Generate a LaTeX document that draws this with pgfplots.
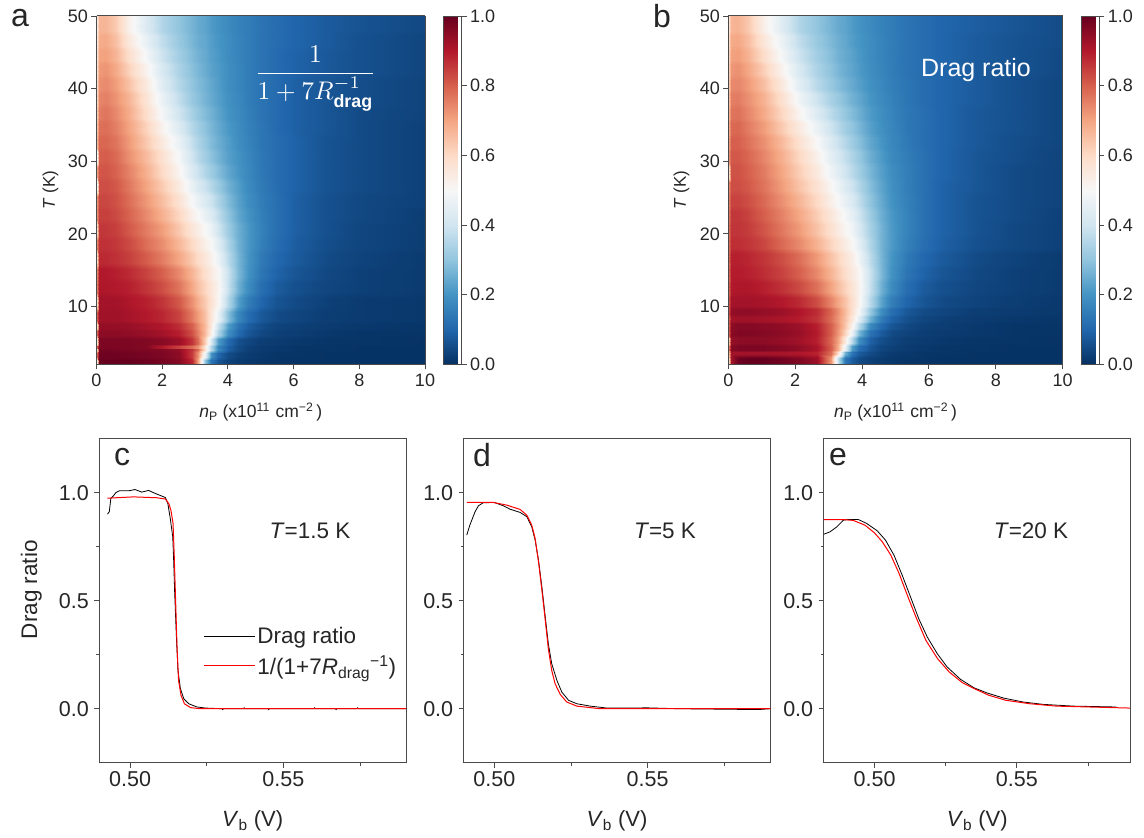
\documentclass[border=0pt]{standalone}
\usepackage{amsmath}
\usepackage{graphicx}
\usepackage{fontspec}
\setmainfont{Liberation Sans}
\usepackage{pgfplots}
\pgfplotsset{compat=1.18}
\definecolor{txt}{HTML}{262626}
\definecolor{frm}{HTML}{4A4A4A}
\newcount\hmrows
\makeatletter
\def\hm@emit#1#2{\def\hm@T{#1}\expandafter\hm@step\hmcolumns,\@nil#2,\@nil}
\def\hm@step#1,#2\@nil#3,#4\@nil{%
  \xdef\hmlist{\hmlist(#1,\hm@T,#3)}%
  \ifx\relax#2\relax\else\hm@step#2\@nil#4\@nil\fi}
% each band is flat over its lower part, then blends into the next band
\newcommand\hmrow[3]{%
  \ifdim#2pt<50pt\pgfmathsetmacro\hm@hi{#2-0.4*(#2-#1)}\else\def\hm@hi{#2}\fi
  \hm@emit{#1}{#3}\hm@emit{\hm@hi}{#3}\global\advance\hmrows by 2\relax}
\newcommand\hmstart[1]{\gdef\hmlist{}\global\hmrows=0\relax\def\hmcolumns{#1}}
\makeatother

% ---------- panel a: value per band of T (lo, hi) along n_P
\hmstart{0,0.08,0.3,0.6,1,1.5,2,2.5,2.9,3.1,3.3,3.5,3.7,4,4.3,4.6,5,5.5,6,7,8,10}
\hmrow{2}{3}{.55,1,1,1,1,.99,.98,.96,.88,.70,.30,.13,.07,.035,.02,.015,.01,.01,.005,.005,.005,.005}
\hmrow{3}{4}{.80,.99,.99,.99,.985,.98,.97,.95,.85,.72,.46,.20,.10,.05,.03,.02,.015,.01,.01,.005,.005,.005}
\hmrow{4}{4.3}{.60,.98,.98,.98,.975,.97,.965,.94,.86,.78,.58,.36,.18,.09,.05,.03,.02,.015,.01,.01,.005,.005}
\hmrow{4.3}{4.8}{.80,.97,.97,.97,.97,.965,.90,.84,.78,.72,.56,.35,.17,.09,.05,.03,.02,.015,.01,.01,.005,.005}
\hmrow{4.8}{6}{.55,.97,.97,.97,.97,.965,.955,.93,.86,.78,.62,.42,.22,.11,.06,.04,.025,.02,.015,.01,.01,.005}
\hmrow{6}{7}{.80,.95,.95,.95,.945,.935,.92,.89,.82,.75,.66,.53,.35,.19,.11,.07,.045,.03,.025,.015,.01,.01}
\hmrow{7}{8}{.60,.94,.94,.94,.935,.92,.905,.87,.80,.735,.66,.55,.39,.22,.13,.085,.055,.035,.03,.02,.015,.01}
\hmrow{8}{10}{.80,.925,.925,.925,.915,.90,.88,.84,.76,.71,.65,.565,.465,.29,.175,.115,.075,.05,.04,.025,.02,.015}
\hmrow{10}{12}{.60,.92,.92,.92,.905,.89,.86,.81,.73,.68,.63,.575,.51,.355,.225,.15,.10,.065,.05,.03,.02,.015}
\hmrow{12}{14}{.76,.905,.905,.90,.89,.86,.825,.77,.695,.65,.61,.565,.52,.385,.26,.185,.12,.08,.06,.04,.03,.02}
\hmrow{14}{16}{.75,.90,.90,.89,.875,.84,.80,.74,.67,.63,.585,.545,.505,.39,.275,.20,.135,.095,.07,.045,.03,.02}
\hmrow{16}{18}{.60,.875,.875,.865,.845,.805,.76,.695,.63,.595,.56,.525,.47,.365,.27,.205,.145,.105,.08,.05,.035,.02}
\hmrow{18}{20}{.75,.865,.865,.855,.83,.78,.735,.665,.60,.565,.53,.50,.44,.345,.26,.21,.155,.115,.085,.055,.04,.025}
\hmrow{20}{22}{.60,.855,.855,.845,.81,.76,.71,.635,.565,.535,.50,.47,.405,.32,.255,.21,.16,.12,.09,.06,.04,.025}
\hmrow{22}{24}{.735,.845,.845,.83,.795,.74,.68,.605,.53,.50,.46,.43,.375,.30,.24,.20,.155,.12,.09,.06,.045,.025}
\hmrow{24}{26}{.725,.835,.835,.82,.78,.72,.655,.575,.495,.46,.425,.395,.345,.28,.23,.19,.15,.12,.09,.06,.045,.03}
\hmrow{26}{28}{.50,.825,.825,.81,.765,.70,.63,.545,.46,.42,.39,.355,.315,.26,.22,.18,.145,.115,.095,.065,.05,.03}
\hmrow{28}{30}{.705,.815,.815,.795,.75,.68,.60,.515,.425,.39,.35,.32,.285,.24,.205,.175,.14,.115,.095,.065,.05,.03}
\hmrow{30}{32}{.50,.80,.805,.785,.73,.66,.58,.49,.40,.36,.325,.295,.265,.225,.20,.17,.14,.115,.095,.065,.05,.03}
\hmrow{32}{34}{.67,.79,.79,.77,.715,.635,.55,.465,.38,.345,.31,.28,.255,.22,.19,.165,.135,.115,.095,.065,.05,.03}
\hmrow{34}{36}{.65,.775,.78,.755,.70,.615,.52,.43,.355,.325,.295,.27,.245,.21,.185,.16,.135,.11,.09,.07,.05,.03}
\hmrow{36}{38}{.63,.76,.77,.74,.685,.59,.49,.40,.335,.305,.28,.26,.235,.20,.18,.155,.13,.11,.09,.07,.05,.035}
\hmrow{38}{40}{.61,.745,.755,.725,.67,.57,.465,.375,.31,.29,.265,.245,.225,.195,.175,.15,.13,.11,.09,.07,.055,.035}
\hmrow{40}{42}{.595,.73,.74,.71,.645,.55,.44,.355,.30,.28,.26,.24,.22,.19,.17,.15,.13,.11,.09,.07,.055,.035}
\hmrow{42}{44}{.585,.715,.725,.69,.615,.52,.42,.34,.29,.27,.25,.23,.215,.19,.17,.15,.13,.11,.095,.075,.06,.04}
\hmrow{44}{46}{.575,.70,.705,.67,.585,.49,.395,.325,.28,.26,.245,.225,.21,.185,.165,.15,.13,.11,.095,.075,.06,.04}
\hmrow{46}{48}{.565,.685,.69,.65,.555,.46,.375,.31,.27,.25,.24,.22,.205,.185,.165,.15,.13,.115,.10,.08,.06,.04}
\hmrow{48}{50}{.55,.67,.67,.63,.525,.43,.35,.30,.265,.245,.235,.215,.20,.18,.16,.15,.13,.115,.10,.08,.065,.045}
\global\let\hmlistA\hmlist
\edef\hmrowsA{\the\hmrows}

% ---------- panel b
\hmstart{0,0.08,0.3,0.6,1.06,1.6,2.12,2.65,3.07,3.29,3.5,3.71,3.92,4.24,4.56,4.88,5.3,5.83,6.36,7.42,8.48,10}
\hmrow{2}{3.4}{.50,.92,.99,1,1,.985,.965,.93,.72,.38,.14,.08,.05,.03,.02,.015,.01,.01,.005,.005,.005,.005}
\hmrow{3.4}{4}{.60,.92,.92,.92,.92,.915,.905,.885,.78,.58,.26,.13,.08,.05,.03,.02,.015,.01,.01,.005,.005,.005}
\hmrow{4}{5}{.70,.96,.97,.97,.97,.96,.945,.91,.80,.68,.46,.22,.12,.07,.04,.03,.02,.015,.01,.01,.005,.005}
\hmrow{5}{6}{.50,.94,.95,.95,.95,.94,.925,.89,.79,.70,.55,.36,.19,.09,.055,.04,.025,.02,.015,.01,.01,.005}
\hmrow{6}{7}{.75,.955,.965,.965,.96,.95,.935,.895,.80,.72,.61,.46,.27,.13,.08,.05,.035,.025,.02,.015,.01,.01}
\hmrow{7}{8}{.75,.95,.96,.96,.955,.945,.93,.89,.80,.73,.64,.52,.36,.18,.11,.07,.045,.03,.025,.015,.01,.01}
\hmrow{8}{9}{.75,.92,.925,.925,.92,.91,.895,.86,.78,.72,.65,.56,.44,.26,.15,.095,.06,.04,.03,.02,.015,.01}
\hmrow{9}{10}{.78,.94,.945,.945,.94,.93,.905,.87,.79,.73,.66,.58,.49,.31,.19,.12,.075,.05,.04,.025,.02,.015}
\hmrow{10}{12}{.78,.92,.92,.92,.915,.90,.875,.825,.745,.695,.645,.585,.515,.36,.235,.155,.10,.07,.05,.035,.025,.015}
\hmrow{12}{14}{.76,.90,.905,.905,.89,.865,.83,.775,.70,.655,.615,.57,.52,.385,.26,.185,.12,.08,.06,.04,.03,.02}
\hmrow{14}{16}{.75,.895,.895,.89,.87,.84,.80,.74,.67,.63,.59,.55,.51,.39,.275,.20,.135,.095,.07,.045,.03,.02}
\hmrow{16}{18}{.75,.89,.89,.88,.86,.825,.78,.715,.645,.61,.57,.535,.48,.37,.27,.205,.145,.105,.08,.05,.035,.02}
\hmrow{18}{20}{.75,.87,.87,.86,.835,.785,.74,.675,.61,.575,.54,.505,.45,.35,.265,.215,.16,.12,.09,.06,.045,.03}
\hmrow{20}{22}{.75,.86,.86,.85,.815,.765,.715,.645,.58,.545,.51,.48,.42,.335,.265,.215,.165,.125,.095,.065,.045,.03}
\hmrow{22}{24}{.74,.855,.855,.84,.80,.75,.695,.625,.56,.525,.49,.455,.40,.32,.255,.21,.165,.125,.095,.065,.05,.03}
\hmrow{24}{26}{.73,.84,.84,.825,.785,.73,.67,.60,.53,.495,.46,.425,.375,.30,.245,.20,.16,.125,.095,.065,.05,.035}
\hmrow{26}{28}{.72,.825,.825,.81,.77,.71,.645,.575,.505,.47,.43,.395,.35,.285,.235,.195,.155,.125,.095,.07,.05,.035}
\hmrow{28}{30}{.50,.82,.82,.80,.76,.695,.625,.55,.475,.44,.40,.365,.325,.27,.225,.19,.155,.125,.10,.07,.05,.035}
\hmrow{30}{32}{.70,.81,.81,.79,.745,.68,.605,.525,.45,.415,.38,.345,.31,.255,.215,.18,.15,.125,.10,.07,.055,.035}
\hmrow{32}{34}{.68,.80,.80,.775,.73,.66,.58,.50,.425,.39,.355,.32,.29,.24,.205,.175,.145,.12,.10,.075,.055,.04}
\hmrow{34}{36}{.66,.785,.79,.76,.71,.63,.55,.465,.395,.36,.325,.30,.27,.225,.195,.17,.14,.12,.10,.075,.06,.04}
\hmrow{36}{38}{.64,.77,.775,.745,.69,.605,.515,.43,.365,.335,.305,.28,.255,.215,.19,.165,.14,.12,.10,.075,.06,.04}
\hmrow{38}{40}{.62,.755,.76,.73,.675,.58,.48,.395,.335,.31,.285,.26,.24,.205,.18,.16,.135,.115,.10,.08,.06,.04}
\hmrow{40}{42}{.60,.74,.745,.715,.65,.55,.445,.36,.31,.285,.265,.245,.225,.195,.175,.155,.135,.115,.10,.08,.06,.04}
\hmrow{42}{44}{.59,.72,.73,.695,.62,.52,.42,.34,.295,.27,.25,.235,.215,.19,.17,.15,.13,.115,.10,.08,.065,.045}
\hmrow{44}{46}{.58,.705,.71,.675,.59,.49,.395,.325,.285,.26,.245,.23,.21,.185,.165,.15,.13,.115,.10,.08,.065,.045}
\hmrow{46}{48}{.57,.69,.695,.655,.56,.465,.375,.31,.275,.255,.24,.22,.205,.185,.165,.15,.13,.115,.10,.08,.065,.05}
\hmrow{48}{50}{.55,.67,.675,.635,.53,.435,.35,.30,.265,.245,.235,.215,.20,.18,.16,.15,.13,.115,.10,.085,.07,.05}
\global\let\hmlistB\hmlist
\edef\hmrowsB{\the\hmrows}

\pgfplotsset{
  colormap={rdbu}{rgb255=(5,48,97) rgb255=(33,102,172) rgb255=(67,147,195) rgb255=(146,197,222) rgb255=(209,229,240) rgb255=(247,247,247) rgb255=(253,219,199) rgb255=(244,165,130) rgb255=(214,96,77) rgb255=(178,24,43) rgb255=(103,0,31)},
  hm/.style={surf,shader=interp,mesh/ordering=x varies,mesh/cols=22},
  common/.style={
    scale only axis,
    axis line style={frm,line width=1pt},
    tick style={frm,line width=0.9pt},
    tick align=outside,
    major tick length=5pt,
    minor tick length=3pt,
    scaled ticks=false,
    every tick label/.append style={text=txt},
    label style={text=txt},
  },
  map/.style={
    common,
    width=#1,height=348.5pt,
    xmin=0,xmax=10,ymin=2,ymax=50,
    xtick={0,2,4,6,8,10},ytick={10,20,30,40,50},
    tick pos=left,
    view={0}{90},
    axis on top,
    colormap name=rdbu,
    point meta min=0,point meta max=1,
    tick label style={font=\fontsize{18}{20}\selectfont},
    xticklabel style={/pgf/number format/assume math mode=true,yshift=-1pt},
    yticklabel style={/pgf/number format/assume math mode=true},
    xlabel={\textit{n}\textsubscript{P} (x10\textsuperscript{11}\,\,cm\textsuperscript{−2}\,)},
    ylabel={\textit{T} (K)},
    xlabel style={font=\fontsize{17.5}{19}\selectfont,at={(axis description cs:0.5,-0.136)},anchor=center},
    ylabel style={font=\fontsize{17}{19}\selectfont,at={(axis description cs:-0.14,0.5)},anchor=center},
    colorbar,
    colorbar style={
      at={(parent axis.north east)},anchor=north west,
      xshift=10pt,width=18pt,
      ytick={0,0.2,0.4,0.6,0.8,1},
      tick pos=right,
      yticklabel pos=right,
      major tick length=5pt,
      tick align=outside,
      axis line style={frm,line width=0.6pt},
      tick style={frm,line width=0.9pt},
      yticklabel style={font=\fontsize{18}{20}\selectfont,text=txt,
        /pgf/number format/.cd,fixed,fixed zerofill,precision=1,assume math mode=true},
    },
  },
  curve/.style n args={2}{
    common,
    width=#1,height=323.9pt,
    ymin=-0.25,ymax=1.25,
    xmax=0.59,xmin=#2,
    xtick={0.5,0.55},ytick={0,0.5,1},
    minor xtick={0.525,0.575},minor ytick={0.25,0.75},
    tick pos=left,
    clip=true,
    tick label style={font=\fontsize{21.5}{23}\selectfont},
    xticklabel style={/pgf/number format/.cd,fixed,fixed zerofill,precision=2,assume math mode=true},
    yticklabel style={xshift=-2pt,/pgf/number format/.cd,fixed,fixed zerofill,precision=1,assume math mode=true},
    xlabel={\textit{V}\textsubscript{b} (V)},
    xlabel style={font=\fontsize{22}{24}\selectfont,at={(axis description cs:0.5,-0.18)},anchor=center},
  },
}

\begin{document}
\begin{tikzpicture}
\path[use as bounding box] (0pt,0pt) rectangle (1144pt,838pt);

% ---- a
\begin{axis}[map=328.5pt,at={(96.5pt,473.5pt)},anchor=south west]
\edef\doplot{\noexpand\addplot3[hm,mesh/rows=\hmrowsA] coordinates {\hmlistA};}\doplot
\end{axis}

% ---- b
\begin{axis}[map=334.4pt,at={(728.3pt,473.5pt)},anchor=south west]
\edef\doplot{\noexpand\addplot3[hm,mesh/rows=\hmrowsB] coordinates {\hmlistB};}\doplot
\end{axis}

% ---- c
\begin{axis}[curve={306.7pt}{0.48994},at={(99.3pt,75.3pt)},anchor=south west,
  ylabel={Drag ratio},
  ylabel style={font=\fontsize{22.5}{24}\selectfont,at={(axis description cs:-0.222,0.534)},anchor=center},
  legend style={at={(axis description cs:0.339,0.425)},anchor=north west,draw=none,fill=none,
    font=\fontsize{22.5}{24}\selectfont,text=txt,row sep=7pt,inner sep=0pt,
    /tikz/every even column/.style={column sep=6pt}},
  legend cell align=left,
  legend image code/.code={\draw[#1] (0pt,0pt) -- (51pt,0pt);},
]
\addplot[black,line width=0.8pt] coordinates {(0.4926,0.901)(0.4932,0.912)(0.4937,0.974)(0.4945,0.985)(0.4954,1.0015)(0.4965,1.009)(0.4995,1.009)(0.5016,1.015)(0.5038,1.003)(0.506,1.011)(0.5082,0.997)(0.5115,0.978)(0.5123,0.95)(0.5131,0.881)(0.5139,0.796)(0.5142,0.688)(0.5145,0.549)(0.5151,0.332)(0.5156,0.178)(0.5164,0.093)(0.5175,0.046)(0.5191,0.023)(0.5218,0.008)(0.5246,0.003)(0.53,0)(0.5302,-0.004)(0.5304,0)(0.537,0)(0.5372,0.004)(0.5374,0)(0.545,0)(0.5452,-0.004)(0.5454,0)(0.56,0)(0.5602,0.004)(0.5604,0)(0.567,0)(0.5672,-0.004)(0.5674,0)(0.574,0)(0.5742,0.004)(0.5744,0)(0.59,0)};
\addlegendentry{Drag ratio}
\addplot[red,line width=1pt] coordinates {(0.4926,0.975)(0.5011,0.981)(0.5087,0.977)(0.5115,0.971)(0.5126,0.95)(0.5133,0.92)(0.514,0.858)(0.5144,0.703)(0.5148,0.518)(0.5153,0.286)(0.5158,0.131)(0.5166,0.062)(0.5177,0.023)(0.5197,0.005)(0.5229,0)(0.59,0)};
\addlegendentry{1/(1+7\textit{R}\textsubscript{drag}\textsuperscript{−1})}
\end{axis}

% ---- d
\begin{axis}[curve={306.6pt}{0.49},at={(463.7pt,75.3pt)},anchor=south west]
\addplot[black,line width=0.8pt] coordinates {(0.491,0.804)(0.492,0.85)(0.4937,0.912)(0.4948,0.94)(0.4964,0.954)(0.5,0.955)(0.5029,0.94)(0.5051,0.924)(0.5084,0.909)(0.5106,0.889)(0.5122,0.842)(0.5133,0.781)(0.5144,0.688)(0.5155,0.564)(0.5166,0.425)(0.5176,0.301)(0.5187,0.209)(0.5204,0.131)(0.522,0.077)(0.5242,0.039)(0.5269,0.023)(0.5313,0.012)(0.5367,0.003)(0.5432,0.003)(0.5498,0.004)(0.56,0)(0.586,-0.004)(0.59,0)};
\addplot[red,line width=1pt] coordinates {(0.491,0.955)(0.4997,0.955)(0.504,0.943)(0.5084,0.923)(0.5106,0.896)(0.5122,0.85)(0.5133,0.788)(0.5144,0.68)(0.5155,0.549)(0.5166,0.41)(0.5176,0.278)(0.5187,0.178)(0.5198,0.116)(0.5215,0.066)(0.5236,0.031)(0.5269,0.012)(0.5313,0.005)(0.5345,0)(0.59,0)};
\end{axis}

% ---- e
\begin{axis}[curve={307pt}{0.4821},at={(823.7pt,75.3pt)},anchor=south west]
\addplot[black,line width=0.8pt] coordinates {(0.4821,0.808)(0.4843,0.819)(0.4867,0.842)(0.489,0.873)(0.4907,0.876)(0.4943,0.876)(0.4972,0.858)(0.5009,0.824)(0.5038,0.781)(0.5068,0.711)(0.5097,0.618)(0.5126,0.518)(0.5155,0.417)(0.5185,0.332)(0.522,0.255)(0.5255,0.193)(0.5302,0.136)(0.5349,0.097)(0.5395,0.073)(0.5454,0.049)(0.5522,0.031)(0.5593,0.02)(0.5698,0.012)(0.585,0.008)};
\addplot[red,line width=1pt] coordinates {(0.4821,0.876)(0.489,0.876)(0.4925,0.872)(0.4966,0.85)(0.4999,0.815)(0.5027,0.773)(0.5057,0.711)(0.5086,0.626)(0.5115,0.525)(0.5145,0.425)(0.518,0.317)(0.5221,0.232)(0.5262,0.17)(0.5308,0.121)(0.5355,0.09)(0.5402,0.062)(0.5461,0.039)(0.5546,0.023)(0.5639,0.012)(0.5756,0.008)(0.5897,0.003)};
\end{axis}

% ---- annotations
\node[white] at (315.5pt,759pt) {\scalebox{2.55}{$\displaystyle\frac{1}{1+7R_{\mathbf{drag}}^{-1}}$}};
\node[white,font=\fontsize{25}{27}\selectfont] at (976pt,768pt) {Drag ratio};
\node[text=txt,font=\fontsize{32}{34}\selectfont] at (20pt,820pt) {a};
\node[text=txt,font=\fontsize{32}{34}\selectfont] at (662pt,822pt) {b};
\node[text=txt,font=\fontsize{32}{34}\selectfont] at (122pt,381pt) {c};
\node[text=txt,font=\fontsize{32}{34}\selectfont] at (482pt,383pt) {d};
\node[text=txt,font=\fontsize{32}{34}\selectfont] at (838pt,381pt) {e};
\node[text=txt,font=\fontsize{22.5}{24}\selectfont] at (310pt,307pt) {\textit{T}=1.5 K};
\node[text=txt,font=\fontsize{22.5}{24}\selectfont] at (665pt,307pt) {\textit{T}=5 K};
\node[text=txt,font=\fontsize{22.5}{24}\selectfont] at (1031pt,307pt) {\textit{T}=20 K};
\end{tikzpicture}
\end{document}
